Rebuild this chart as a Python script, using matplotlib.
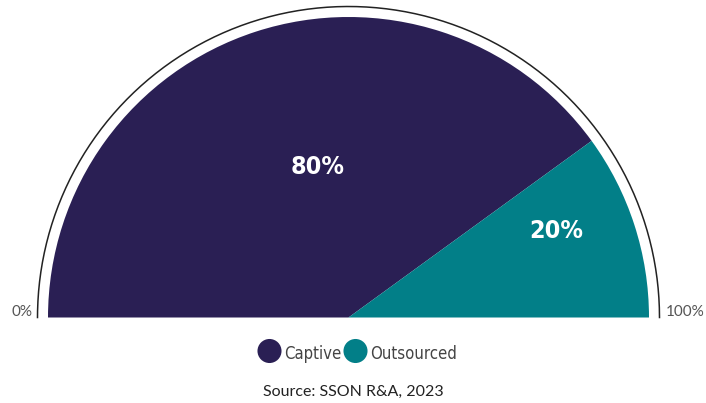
import numpy as np
import matplotlib.pyplot as plt

labels = ['Captive', 'Outsourced']
shares = [80, 20]
colors = ['#2a1f54', '#027f88']

W, H = 706, 403
cx, cy = 348.5, H - 317.5
r = 300.5

fig = plt.figure(figsize=(W / 100, H / 100), dpi=100)
ax = fig.add_axes([0, 0, 1, 1])

# half pie: the blank third wedge fills the lower half
wedges, _ = ax.pie(shares + [sum(shares)], colors=colors + ['none'],
                   startangle=180, counterclock=False, radius=r,
                   center=(cx, cy), frame=True)
ax.set_xlim(0, W)
ax.set_ylim(0, H)
ax.axis('off')

# thin outer arc
t = np.linspace(0, np.pi, 300)
ax.plot(cx + 311 * np.cos(t), cy + 311 * np.sin(t), color='#222222', lw=1.1)

narrow = dict(family='DejaVu Sans', stretch='condensed')
ax.text(317.5, H - 167.5, f'{shares[0]}%', color='white', fontsize=18,
        fontweight='bold', ha='center', va='center', **narrow)
ax.text(556.5, H - 231, f'{shares[1]}%', color='white', fontsize=18,
        fontweight='bold', ha='center', va='center', **narrow)

ax.text(33, H - 312, '0%', color='#555555', fontsize=11, family='Lato',
        ha='right', va='center')
ax.text(666, H - 312, '100%', color='#555555', fontsize=11, family='Lato',
        ha='left', va='center')

# legend
for x, lab, col in zip([269.5, 355.5], labels, colors):
    ax.scatter([x], [H - 351], s=300, color=col, edgecolors='none')
    ax.text(x + 15, H - 354, lab, color='#444444', fontsize=12,
            ha='left', va='center', **narrow)

ax.text(353, H - 391.5, 'Source: SSON R&A, 2023', color='#222222',
        fontsize=11.5, family='Lato', ha='center', va='center')

fig.savefig('out.png', dpi=100)
